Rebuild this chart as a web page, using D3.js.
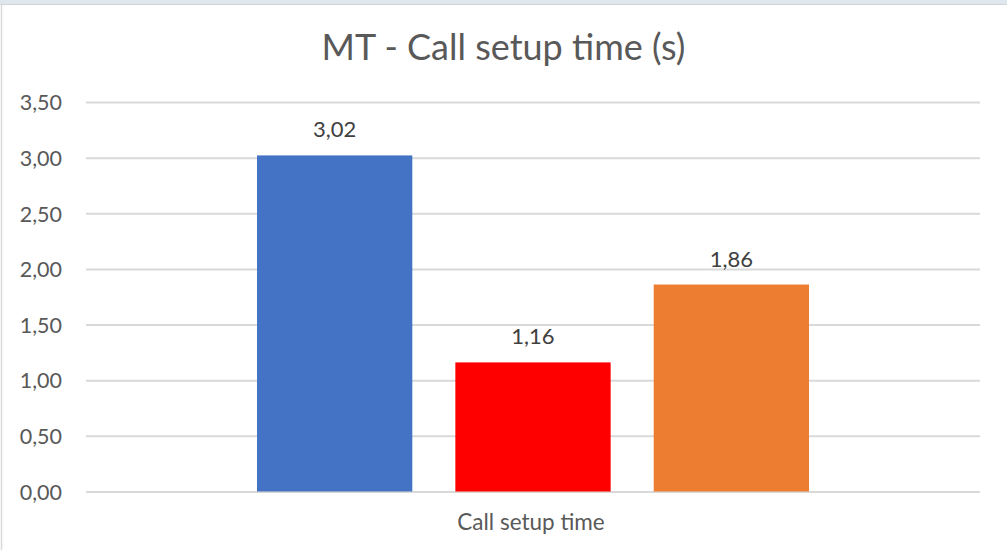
<!DOCTYPE html>
<html>
<head>
<meta charset="utf-8">
<script src="https://cdn.jsdelivr.net/npm/d3@7"></script>
<style>
  html, body { margin: 0; padding: 0; background: #fff; }
  svg { display: block; }
  text { font-family: Lato, "Open Sans", "Liberation Sans", sans-serif; }
</style>
</head>
<body>
<svg id="chart" width="1007" height="550"></svg>
<script>
// Chart data
const title = "MT - Call setup time (s)";
const categories = ["Call setup time"];
const seriesNames = ["A", "B", "C"];
const seriesValues = [3.02, 1.16, 1.86];
const seriesColors = ["#4472C4", "#FF0000", "#ED7D31"];
const yTicks = [0, 0.5, 1, 1.5, 2, 2.5, 3, 3.5];

const fmt = v => d3.format(".2f")(v).replace(".", ",");

const W = 1007, H = 550;
const plot = { left: 86, right: 980, top: 102, bottom: 491.5 };

const svg = d3.select("#chart");

// frame: pale strip along the top and a thin line on the left
svg.append("rect").attr("x", 0).attr("y", 0).attr("width", W).attr("height", 4).attr("fill", "#dfe7ee");
svg.append("line").attr("x1", 0).attr("x2", W).attr("y1", 4.5).attr("y2", 4.5).attr("stroke", "#d0d4d8").attr("stroke-width", 1);
svg.append("line").attr("x1", 1.5).attr("x2", 1.5).attr("y1", 4).attr("y2", H).attr("stroke", "#d9d9d9").attr("stroke-width", 1.5);

const y = d3.scaleLinear().domain([0, 3.5]).range([plot.bottom, plot.top]);

const x0 = d3.scaleBand().domain(categories).range([plot.left, plot.right]).paddingInner(0).paddingOuter(0);
// inner band for the three series; outer gaps leave ~171px each side
const groupPad = 171;
const x1 = d3.scaleBand().domain(seriesNames)
  .range([groupPad, x0.bandwidth() - groupPad])
  .paddingInner(0.217).paddingOuter(0);

// gridlines + y tick labels via axis
const yAxis = d3.axisLeft(y).tickValues(yTicks).tickSize(-(plot.right - plot.left)).tickFormat(fmt).tickPadding(24);
const gy = svg.append("g").attr("transform", `translate(${plot.left},0)`).call(yAxis);
gy.select(".domain").remove();
gy.selectAll(".tick line").attr("stroke", "#d9d9d9").attr("stroke-width", 2);
gy.selectAll(".tick text")
  .attr("fill", "#595959")
  .attr("font-size", 21.5)
  .attr("dy", "0.36em");

// bars
const g = svg.append("g");
categories.forEach((cat, ci) => {
  const gx = x0(cat);
  seriesNames.forEach((s, i) => {
    const v = seriesValues[i];
    g.append("rect")
      .attr("x", gx + x1(s))
      .attr("y", y(v))
      .attr("width", x1.bandwidth())
      .attr("height", y(0) - y(v))
      .attr("fill", seriesColors[i]);
    g.append("text")
      .attr("x", gx + x1(s) + x1.bandwidth() / 2)
      .attr("y", y(v) - 18)
      .attr("text-anchor", "middle")
      .attr("fill", "#404040")
      .attr("font-size", 22)
      .text(fmt(v));
  });
  // category label
  svg.append("text")
    .attr("x", gx + x0.bandwidth() / 2 - 2)
    .attr("y", 530)
    .attr("text-anchor", "middle")
    .attr("fill", "#595959")
    .attr("font-size", 22.5)
    .text(cat);
});

// title
svg.append("text")
  .attr("x", 503.5)
  .attr("y", 60)
  .attr("text-anchor", "middle")
  .attr("fill", "#595959")
  .attr("font-size", 36)
  .text(title);
</script>
</body>
</html>
